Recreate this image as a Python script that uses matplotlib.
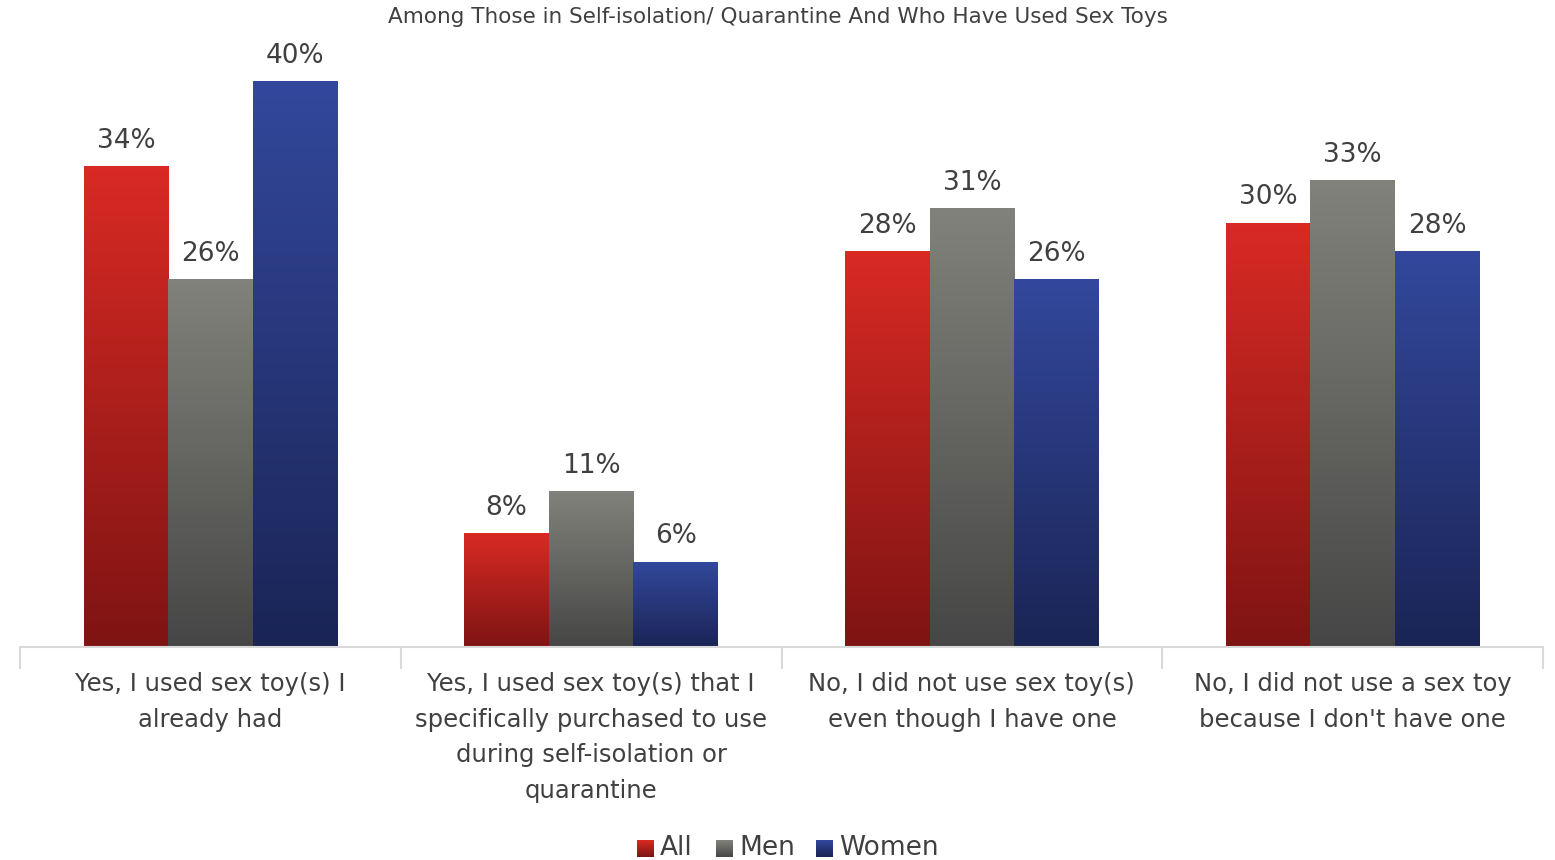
import matplotlib.pyplot as plt
import numpy as np
from matplotlib.colors import LinearSegmentedColormap

plt.rcParams['font.family'] = ['DejaVu Sans']

title = 'Among Those in Self-isolation/ Quarantine And Who Have Used Sex Toys'
categories = ['Yes, I used sex toy(s) I\nalready had',
              'Yes, I used sex toy(s) that I\nspecifically purchased to use\nduring self-isolation or\nquarantine',
              'No, I did not use sex toy(s)\neven though I have one',
              'No, I did not use a sex toy\nbecause I don\'t have one']
series = ['All', 'Men', 'Women']
all_vals = [34, 8, 28, 30]
men_vals = [26, 11, 31, 33]
women_vals = [40, 6, 26, 28]

# gradient colours (top, bottom)
grads = [('#d92a24', '#7e1413'), ('#82827c', '#464646'), ('#33489c', '#1a2455')]

fig = plt.figure(figsize=(15.55, 8.6), dpi=100)
ax = fig.add_axes([20 / 1555, 1 - 647 / 860, 1523 / 1555, 636 / 860])

x = np.arange(len(categories))
w = 0.222
text_col = '#404040'

for i, vals in enumerate([all_vals, men_vals, women_vals]):
    cmap = LinearSegmentedColormap.from_list('g%d' % i, [grads[i][1], grads[i][0]])
    for j, v in enumerate(vals):
        left = x[j] + (i - 1) * w - w / 2
        grad = np.linspace(0, 1, 256).reshape(-1, 1)
        ax.imshow(grad, cmap=cmap, origin='lower', aspect='auto',
                  extent=(left, left + w, 0, v), zorder=2, interpolation='bicubic')
        ax.text(left + w / 2, v + 0.9, '%d%%' % v, ha='center', va='bottom',
                fontsize=19, color=text_col)

ax.set_xlim(-0.5, len(categories) - 0.5)
ax.set_ylim(0, 45)
for s in ['top', 'right', 'left']:
    ax.spines[s].set_visible(False)
ax.spines['bottom'].set_color('#d9d9d9')
ax.spines['bottom'].set_linewidth(1.5)
ax.set_yticks([])
ax.set_xticks(np.arange(-0.5, len(categories)), minor=False)
ax.set_xticklabels([])
ax.tick_params(axis='x', length=16, color='#d9d9d9', width=1.5)
for j, c in enumerate(categories):
    ax.text(x[j], -1.75, c, ha='center', va='top', fontsize=17.5, color=text_col,
            linespacing=1.62)

fig.text(0.5, 1 - 17 / 860, title, ha='center', va='center', fontsize=15.5, color=text_col)

# legend squares with the same vertical gradient as the bars
leg_x = [637, 716, 816]
leg_txt = [660, 739, 839]
for i, name in enumerate(series):
    cmap = LinearSegmentedColormap.from_list('l%d' % i, [grads[i][1], grads[i][0]])
    lax = fig.add_axes([leg_x[i] / 1555, 1 - 857 / 860, 17 / 1555, 17 / 860])
    lax.imshow(np.linspace(0, 1, 64).reshape(-1, 1), cmap=cmap, origin='lower', aspect='auto')
    lax.axis('off')
    fig.text(leg_txt[i] / 1555, 1 - 848 / 860, name, ha='left', va='center',
             fontsize=19, color=text_col)

fig.savefig('out.png', dpi=100)
